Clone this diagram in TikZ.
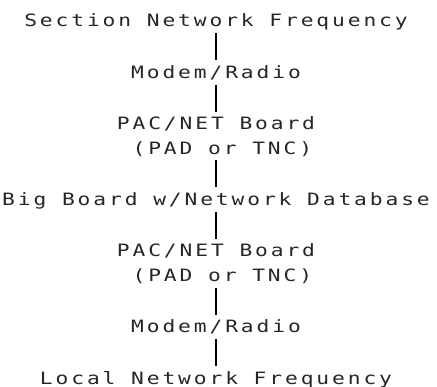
\documentclass[tikz,border=0pt]{standalone}
\usepackage{fontspec}
\usepackage{tikz}
\usetikzlibrary{positioning}
\newfontfamily\dotfont[LetterSpace=17,FakeStretch=1.25]{DejaVu Sans Mono}

\begin{document}
\begin{tikzpicture}[
x=1pt, y=-1pt,
node distance=27pt,
block/.style={font=\dotfont\fontsize{17}{24}\selectfont, text=black!85, inner xsep=0pt, inner ysep=6pt, text height=12pt, text depth=0pt},
link/.style={line width=2.4pt}
]
\useasboundingbox (0,0) rectangle (437,387);

\node[block, anchor=base] (sec) at (216,27) {Section Network Frequency};
\node[block, below=of sec] (modA) {Modem/Radio};
\node[block, below=of modA] (pacA) {PAC/NET Board};
\node[block, below=0pt of pacA] (padA) {\phantom{X}(PAD or TNC)};
\node[block, below=of padA] (big) {Big Board w/Network Database};
\node[block, below=of big] (pacB) {PAC/NET Board};
\node[block, below=0pt of pacB] (padB) {\phantom{X}(PAD or TNC)};
\node[block, below=of padB] (modB) {Modem/Radio};
\node[block, below=of modB] (loc) {Local Network Frequency};

\draw[link] (sec) -- (modA);
\draw[link] (modA) -- (pacA);
\draw[link] (padA) -- (big);
\draw[link] (big) -- (pacB);
\draw[link] (padB) -- (modB);
\draw[link] (modB) -- (loc);
\end{tikzpicture}
\end{document}
